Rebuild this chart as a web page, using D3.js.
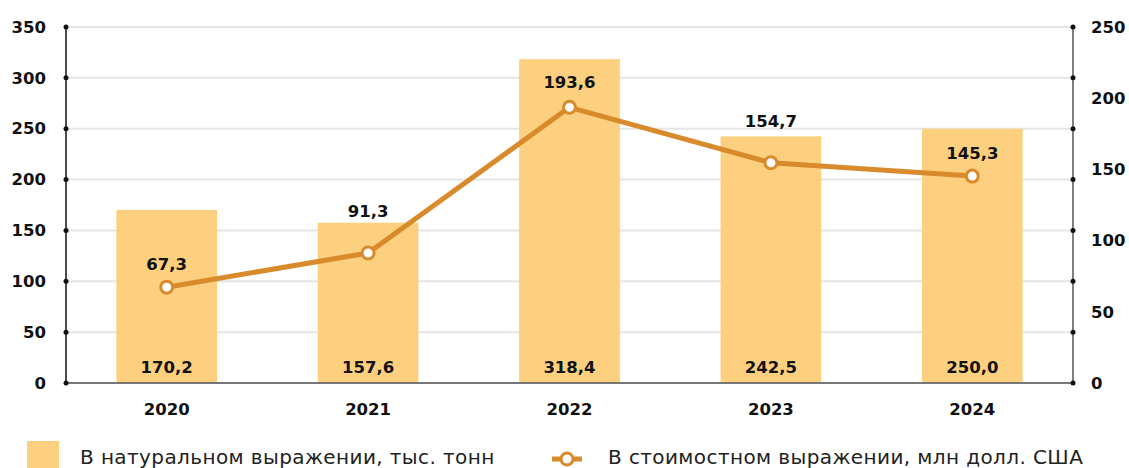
<!DOCTYPE html>
<html>
<head>
<meta charset="utf-8">
<script src="https://cdn.jsdelivr.net/npm/d3@7"></script>
<style>
  body { margin: 0; background: #fff; }
  svg text { font-family: "DejaVu Sans", sans-serif; }
</style>
</head>
<body>
<div id="chart"></div>
<script>
var years = ["2020", "2021", "2022", "2023", "2024"];
var volume = [170.2, 157.6, 318.4, 242.5, 250.0];   // тыс. тонн
var value = [67.3, 91.3, 193.6, 154.7, 145.3];      // млн долл. США
var leftTicks = [0, 50, 100, 150, 200, 250, 300, 350];
var rightTicks = [0, 50, 100, 150, 200, 250];
var legendLabels = ["В натуральном выражении, тыс. тонн", "В стоимостном выражении, млн долл. США"];
// vertical nudge of the line labels (px, above the point)
var labelShift = [23, 42, 25, 41, 23];

var W = 1129, H = 468;
var margin = { top: 27, bottom: 85, left: 66, right: 56 };
var barColor = "#fcd07f", lineColor = "#d98a2b";
var fmt = function (v) { return v.toFixed(1).replace(".", ","); };

var svg = d3.select("#chart").append("svg")
    .attr("width", W)
    .attr("height", H);

var x = d3.scaleBand()
    .domain(years)
    .range([margin.left, W - margin.right])
    .paddingInner(0.5)
    .paddingOuter(0.25);

var yL = d3.scaleLinear().domain([0, 350]).range([H - margin.bottom, margin.top]);
var yR = d3.scaleLinear().domain([0, 250]).range([H - margin.bottom, margin.top]);
var x0 = margin.left, x1 = W - margin.right;

// grid
svg.append("g")
    .selectAll("line")
    .data(leftTicks.slice(1))
    .enter().append("line")
    .attr("x1", x0).attr("x2", x1)
    .attr("y1", d => yL(d)).attr("y2", d => yL(d))
    .attr("stroke", "#e6e6e6").attr("stroke-width", 2);

// bars
svg.append("g")
    .selectAll("rect")
    .data(volume)
    .enter().append("rect")
    .attr("x", (d, i) => x(years[i]))
    .attr("y", d => yL(d))
    .attr("width", x.bandwidth())
    .attr("height", d => yL(0) - yL(d))
    .attr("fill", barColor);

// bar labels
svg.append("g")
    .selectAll("text")
    .data(volume)
    .enter().append("text")
    .attr("x", (d, i) => x(years[i]) + x.bandwidth() / 2)
    .attr("y", yL(0) - 10)
    .attr("text-anchor", "middle")
    .attr("font-size", 16.5).attr("font-weight", 700).attr("fill", "#111")
    .text(fmt);

// x axis baseline
svg.append("line")
    .attr("x1", x0).attr("x2", x1)
    .attr("y1", yL(0)).attr("y2", yL(0))
    .attr("stroke", "#777").attr("stroke-width", 2);

// left axis
svg.append("line")
    .attr("x1", x0).attr("x2", x0)
    .attr("y1", yL(0)).attr("y2", yL(350))
    .attr("stroke", "#111").attr("stroke-width", 1.5);
svg.append("g").selectAll("circle")
    .data(leftTicks).enter().append("circle")
    .attr("cx", x0).attr("cy", d => yL(d)).attr("r", 2.5).attr("fill", "#111");
svg.append("g").selectAll("text")
    .data(leftTicks).enter().append("text")
    .attr("x", x0 - 20).attr("y", d => yL(d))
    .attr("dy", "0.35em").attr("text-anchor", "end")
    .attr("font-size", 16.5).attr("font-weight", 700).attr("fill", "#111")
    .text(d => d);

// right axis (dots follow the left grid, labels follow the right scale)
svg.append("line")
    .attr("x1", x1).attr("x2", x1)
    .attr("y1", yL(0)).attr("y2", yL(350))
    .attr("stroke", "#555").attr("stroke-width", 1.5);
svg.append("g").selectAll("circle")
    .data(leftTicks).enter().append("circle")
    .attr("cx", x1).attr("cy", d => yL(d)).attr("r", 2.5).attr("fill", "#111");
svg.append("g").selectAll("text")
    .data(rightTicks).enter().append("text")
    .attr("x", x1 + 18).attr("y", d => yR(d))
    .attr("dy", "0.35em").attr("text-anchor", "start")
    .attr("font-size", 16.5).attr("font-weight", 700).attr("fill", "#111")
    .text(d => d);

// x labels
svg.append("g").selectAll("text")
    .data(years).enter().append("text")
    .attr("x", d => x(d) + x.bandwidth() / 2)
    .attr("y", yL(0) + 26)
    .attr("dy", "0.35em").attr("text-anchor", "middle")
    .attr("font-size", 16.5).attr("font-weight", 700).attr("fill", "#111")
    .text(d => d);

// line
var cx = (d, i) => x(years[i]) + x.bandwidth() / 2;
var line = d3.line().x(cx).y(d => yR(d));
svg.append("path")
    .datum(value)
    .attr("d", line)
    .attr("fill", "none")
    .attr("stroke", lineColor).attr("stroke-width", 5)
    .attr("stroke-linejoin", "round");
svg.append("g").selectAll("circle")
    .data(value).enter().append("circle")
    .attr("cx", cx).attr("cy", d => yR(d)).attr("r", 6)
    .attr("fill", "#fff").attr("stroke", lineColor).attr("stroke-width", 3);
svg.append("g").selectAll("text")
    .data(value).enter().append("text")
    .attr("x", cx)
    .attr("y", (d, i) => yR(d) - labelShift[i])
    .attr("dy", "0.35em").attr("text-anchor", "middle")
    .attr("font-size", 16.5).attr("font-weight", 700).attr("fill", "#111")
    .text(fmt);

// legend
var lg = svg.append("g");
lg.append("rect")
    .attr("x", 27).attr("y", 441).attr("width", 32).attr("height", 30)
    .attr("fill", barColor);
lg.append("text")
    .attr("x", 80).attr("y", 464)
    .attr("font-size", 20).attr("letter-spacing", 0.4).attr("fill", "#222")
    .text(legendLabels[0]);
lg.append("line")
    .attr("x1", 552).attr("x2", 582).attr("y1", 459).attr("y2", 459)
    .attr("stroke", lineColor).attr("stroke-width", 5);
lg.append("circle")
    .attr("cx", 567).attr("cy", 459).attr("r", 6)
    .attr("fill", "#fff").attr("stroke", lineColor).attr("stroke-width", 3);
lg.append("text")
    .attr("x", 608).attr("y", 464)
    .attr("font-size", 20).attr("letter-spacing", 0.4).attr("fill", "#222")
    .text(legendLabels[1]);
</script>
</body>
</html>
